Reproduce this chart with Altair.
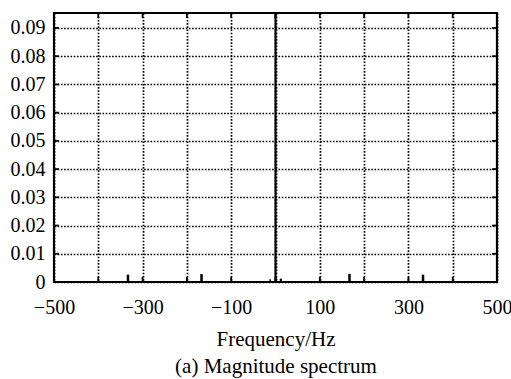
import altair as alt
import pandas as pd

# Spectrum data
freq = [-333, -167, -12, 0, 12, 167, 333]
mag = [0.0026, 0.0028, 0.0010, 0.5, 0.0012, 0.0029, 0.0026]
widths = [2.5, 2.5, 1.5, 2.2, 2.0, 2.5, 2.5]

x_ticks = [-500, -400, -300, -200, -100, 0, 100, 200, 300, 400, 500]
y_ticks = [0.0, 0.01, 0.02, 0.03, 0.04, 0.05, 0.06, 0.07, 0.08, 0.09]

X_DOMAIN = [-500, 500]
Y_DOMAIN = [0, 0.0953]
FONT = "Liberation Serif"

df = pd.DataFrame({"f": freq, "m": mag, "w": widths, "z": [0] * len(freq)})

xscale = alt.Scale(domain=X_DOMAIN, nice=False, zero=False)
yscale = alt.Scale(domain=Y_DOMAIN, nice=False)

x_axis = alt.Axis(
    values=x_ticks, grid=True, gridDash=[1.6, 1.6], gridColor="black",
    gridWidth=1.7, gridOpacity=1, ticks=False, tickSize=0, domain=False,
    labelExpr="datum.value % 200 == 0 ? '' : datum.label",
    labelFont=FONT, labelFontSize=20, labelColor="black", labelPadding=15,
    labelFlush=False, labelOverlap=False,
    title=["Frequency/Hz", "(a) Magnitude spectrum"],
    titleFont=FONT, titleFontSize=21, titleFontWeight="normal",
    titleColor="black", titleBaseline="alphabetic", titleY=63,
    titleLineHeight=27,
)
y_axis = alt.Axis(
    values=y_ticks, grid=True, gridDash=[1.6, 1.6], gridColor="black",
    gridWidth=1.5, gridOpacity=1, ticks=False, tickSize=0, domain=False,
    labelExpr="datum.value == 0 ? '0' : format(datum.value, '.2f')",
    labelFont=FONT, labelFontSize=20, labelColor="black", labelPadding=9,
    labelOverlap=False, title=None,
)

spikes = alt.Chart(df).mark_rule(color="black", clip=True).encode(
    x=alt.X("f:Q", scale=xscale, axis=x_axis),
    y=alt.Y("z:Q", scale=yscale, axis=y_axis),
    y2="m:Q",
    strokeWidth=alt.StrokeWidth("w:Q", scale=None),
)

# inward tick marks on the frame
TX = 11
TY = 0.0018
xt = pd.DataFrame({"t": x_ticks, "b0": [Y_DOMAIN[0]] * len(x_ticks),
                   "b1": [Y_DOMAIN[0] + TY] * len(x_ticks),
                   "t0": [Y_DOMAIN[1]] * len(x_ticks),
                   "t1": [Y_DOMAIN[1] - TY] * len(x_ticks)})
yt = pd.DataFrame({"t": y_ticks, "l0": [X_DOMAIN[0]] * len(y_ticks),
                   "l1": [X_DOMAIN[0] + TX] * len(y_ticks),
                   "r0": [X_DOMAIN[1]] * len(y_ticks),
                   "r1": [X_DOMAIN[1] - TX] * len(y_ticks)})

rule_kw = dict(color="black", strokeWidth=1.8)
bottom_t = alt.Chart(xt).mark_rule(**rule_kw).encode(
    x=alt.X("t:Q", scale=xscale, axis=x_axis),
    y=alt.Y("b0:Q", scale=yscale, axis=y_axis), y2="b1:Q")
top_t = alt.Chart(xt).mark_rule(**rule_kw).encode(
    x=alt.X("t:Q", scale=xscale, axis=x_axis),
    y=alt.Y("t0:Q", scale=yscale, axis=y_axis), y2="t1:Q")
left_t = alt.Chart(yt).mark_rule(**rule_kw).encode(
    y=alt.Y("t:Q", scale=yscale, axis=y_axis),
    x=alt.X("l0:Q", scale=xscale, axis=x_axis), x2="l1:Q")
right_t = alt.Chart(yt).mark_rule(**rule_kw).encode(
    y=alt.Y("t:Q", scale=yscale, axis=y_axis),
    x=alt.X("r0:Q", scale=xscale, axis=x_axis), x2="r1:Q")

chart = alt.layer(spikes, bottom_t, top_t, left_t, right_t).properties(
    width=443, height=269,
    autosize=alt.AutoSizeParams(type="none"),
    padding={"left": 54, "top": 13, "right": 14, "bottom": 97},
    background="white",
).configure_view(stroke="black", strokeWidth=2.2)

chart.save("out.html", embed_options={"renderer": "svg", "actions": False})
